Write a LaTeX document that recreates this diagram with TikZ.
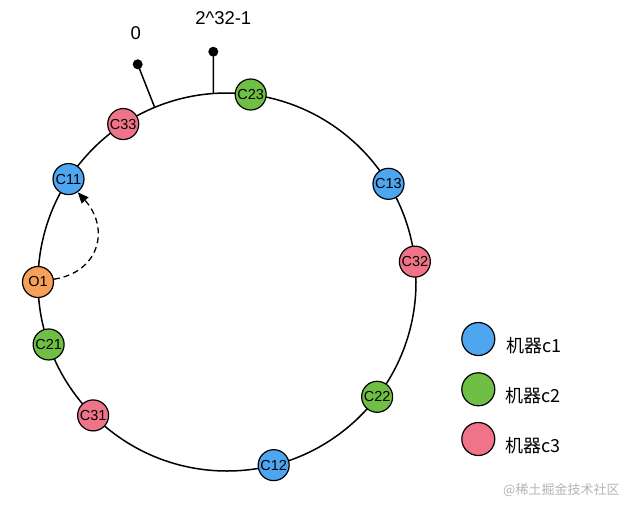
\documentclass[tikz,border=0pt]{standalone}
\usepackage{fontspec}
\setmainfont{Liberation Sans}
\newfontfamily\cjk{Noto Sans CJK SC}
\usetikzlibrary{calc,arrows.meta}
\definecolor{blueC}{HTML}{4DA6EF}
\definecolor{greenC}{HTML}{70BF45}
\definecolor{pinkC}{HTML}{F07489}
\definecolor{orangeC}{HTML}{F7A05A}
\definecolor{wmgray}{HTML}{B4B4B4}
\tikzset{
  vnode/.style={circle, draw=black, line width=1.2pt, minimum size=31pt, inner sep=0pt, font=\fontsize{14.5}{14.5}\selectfont},
  legc/.style={circle, draw=black, line width=1.2pt, minimum size=33pt, inner sep=0pt},
  legt/.style={anchor=west, inner sep=0pt, font=\cjk\fontsize{18}{18}\selectfont},
  ring/.style={line width=1.5pt},
  pin/.style={line width=1.5pt},
  pindot/.style={circle, fill=black, minimum size=10pt, inner sep=0pt},
  toplabel/.style={inner sep=0pt, font=\fontsize{18.5}{18.5}\selectfont},
}
\begin{document}
\begin{tikzpicture}[x=1pt,y=1pt]
\useasboundingbox (0,0) rectangle (637,-512);
\coordinate (c) at (227,-282);
\draw[ring] (c) circle (189);
% pins
\coordinate (p0base) at ($(c)+(112.5:189)$);
\node[pindot] (p0dot) at (137.7,-64.3) {};
\draw[pin] (p0base) -- (p0dot.center);
\coordinate (p1base) at ($(c)+(94.1:189)$);
\node[pindot] (p1dot) at (213.3,-51.7) {};
\draw[pin] (p1base) -- (p1dot.center);
\node[toplabel] (l0) at (135.7,-33.3) {0};
\node[toplabel] (l1) at (223.3,-18.3) {2\^{}32-1};
% nodes on ring
\node[vnode, fill=greenC] (C23) at ($(c)+(82.8:189)$) {C23};
\node[vnode, fill=pinkC] (C33) at ($(c)+(123.3:189)$) {C33};
\node[vnode, fill=blueC] (C11) at ($(c)+(147:189)$) {C11};
\node[vnode, fill=orangeC] (O1) at ($(c)+(180:189)$) {O1};
\node[vnode, fill=greenC] (C21) at ($(c)+(199.3:189)$) {C21};
\node[vnode, fill=pinkC] (C31) at ($(c)+(224.9:189)$) {C31};
\node[vnode, fill=blueC] (C12) at ($(c)+(284.3:189)$) {C12};
\node[vnode, fill=greenC] (C22) at ($(c)+(322.6:189)$) {C22};
\node[vnode, fill=pinkC] (C32) at ($(c)+(6.2:189)$) {C32};
\node[vnode, fill=blueC] (C13) at ($(c)+(31.3:189)$) {C13};
% dashed arrow
\draw[line width=1.3pt, dash pattern=on 6pt off 4pt, -{Triangle[length=11pt,width=9pt]}]
  (O1.10) .. controls (100,-272) and (110,-228) .. (C11.-55);
% legend
\node[legc, fill=blueC] (g1) at (478.3,-339) {};
\node[legc, fill=greenC] (g2) at (478.3,-389.3) {};
\node[legc, fill=pinkC] (g3) at (478.3,-439) {};
\node[legt] (t1) at (506,-346) {机器c1};
\node[legt] (t2) at (505,-396) {机器c2};
\node[legt] (t3) at (505,-446) {机器c3};
\node[anchor=west, inner sep=0pt, text=wmgray, font=\cjk\fontsize{13}{13}\selectfont] (wm) at (503,-490) {@稀土掘金技术社区};
\end{tikzpicture}
\end{document}
